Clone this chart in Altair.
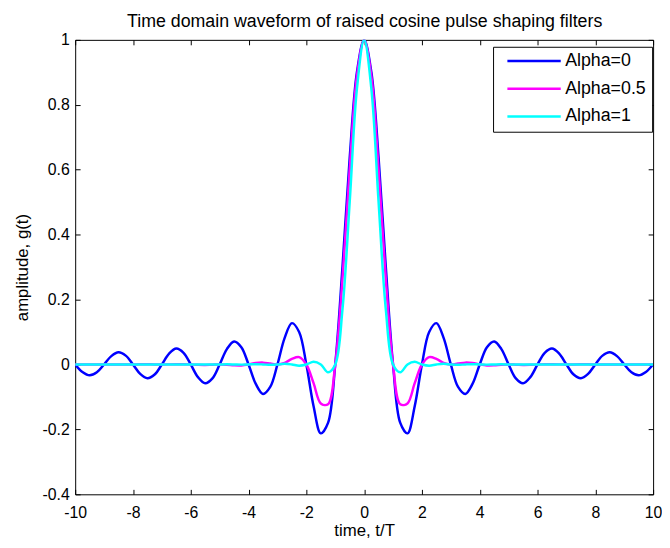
import altair as alt
import pandas as pd

# sample grid of t/T
t_values = [i / 4 for i in range(-40, 41)]

alpha0 = [
    0.0, -0.0231, -0.0335, -0.0243, 0.0, 0.0257, 0.0375, 0.0273,
    0.0, -0.0290, -0.0424, -0.0311, 0.0, 0.0334, 0.0490, 0.0360,
    0.0, -0.0391, -0.0579, -0.0429, 0.0, 0.0474, 0.0707, 0.0530,
    0.0, -0.0600, -0.0909, -0.0693, 0.0, 0.0819, 0.1273, 0.1000,
    0.0, -0.1286, -0.2122, -0.1801, 0.0, 0.3001, 0.6366, 0.9003,
    1.0,
    0.9003, 0.6366, 0.3001, 0.0, -0.1801, -0.2122, -0.1286, 0.0,
    0.1000, 0.1273, 0.0819, 0.0, -0.0693, -0.0909, -0.0600, 0.0,
    0.0530, 0.0707, 0.0474, 0.0, -0.0429, -0.0579, -0.0391, 0.0,
    0.0360, 0.0490, 0.0334, 0.0, -0.0311, -0.0424, -0.0290, 0.0,
    0.0273, 0.0375, 0.0257, 0.0, -0.0243, -0.0335, -0.0231, 0.0,
]

alpha05 = [
    0.0, -0.0002, -0.0003, -0.0001, 0.0, -0.0001, -0.0004, -0.0004,
    0.0, 0.0005, 0.0005, 0.0002, 0.0, 0.0003, 0.0008, 0.0009,
    0.0, -0.0011, -0.0014, -0.0006, 0.0, -0.0008, -0.0026, -0.0029,
    0.0, 0.0043, 0.0057, 0.0028, 0.0, 0.0048, 0.0172, 0.0228,
    0.0, -0.0576, -0.1200, -0.1225, 0.0, 0.2625, 0.6002, 0.8872,
    1.0,
    0.8872, 0.6002, 0.2625, 0.0, -0.1225, -0.1200, -0.0576, 0.0,
    0.0228, 0.0172, 0.0048, 0.0, 0.0028, 0.0057, 0.0043, 0.0,
    -0.0029, -0.0026, -0.0008, 0.0, -0.0006, -0.0014, -0.0011, 0.0,
    0.0009, 0.0008, 0.0003, 0.0, 0.0002, 0.0005, 0.0005, 0.0,
    -0.0004, -0.0004, -0.0001, 0.0, -0.0001, -0.0003, -0.0002, 0.0,
]

alpha1 = [
    0.0, 0.0, 0.0, 0.0, 0.0, 0.0001, 0.0, -0.0001,
    0.0, 0.0001, 0.0, -0.0001, 0.0, 0.0001, 0.0, -0.0002,
    0.0, 0.0002, 0.0, -0.0003, 0.0, 0.0004, 0.0, -0.0005,
    0.0, 0.0008, 0.0, -0.0012, 0.0, 0.0020, 0.0, -0.0037,
    0.0, 0.0081, 0.0, -0.0243, 0.0, 0.1698, 0.5, 0.8488,
    1.0,
    0.8488, 0.5, 0.1698, 0.0, -0.0243, 0.0, 0.0081, 0.0,
    -0.0037, 0.0, 0.0020, 0.0, -0.0012, 0.0, 0.0008, 0.0,
    -0.0005, 0.0, 0.0004, 0.0, -0.0003, 0.0, 0.0002, 0.0,
    -0.0002, 0.0, 0.0001, 0.0, -0.0001, 0.0, 0.0001, 0.0,
    -0.0001, 0.0, 0.0001, 0.0, 0.0, 0.0, 0.0, 0.0,
]

series_names = ["Alpha=0", "Alpha=0.5", "Alpha=1"]
series_colors = ["#0000FF", "#FF00FF", "#00FFFF"]
x_ticks = [-10, -8, -6, -4, -2, 0, 2, 4, 6, 8, 10]
y_ticks = [-0.4, -0.2, 0, 0.2, 0.4, 0.6, 0.8, 1]
title_text = "Time domain waveform of raised cosine pulse shaping filters"
x_title = "time, t/T"
y_title = "amplitude, g(t)"

rows = []
for name, vals in zip(series_names, [alpha0, alpha05, alpha1]):
    for t, g in zip(t_values, vals):
        rows.append({"t": t, "g": g, "series": name})
df = pd.DataFrame(rows)

W, H = 585, 460
TK = 5  # inward tick length
FONT = "Liberation Sans"

xscale = alt.Scale(domain=[-10, 10], nice=False, zero=False)
yscale = alt.Scale(domain=[-0.4, 1], nice=False, zero=False)

lines = alt.Chart(df).mark_line(
    strokeWidth=2.5, interpolate="catmull-rom", clip=True
).encode(
    x=alt.X(
        "t:Q", scale=xscale,
        axis=alt.Axis(
            orient="bottom", offset=-TK, values=x_ticks, ticks=True,
            tickSize=TK, tickColor="black", domain=False, grid=False,
            labelFlush=False, labelFont=FONT, labelFontSize=16,
            labelColor="black", labelPadding=10, labelExpr="'' + datum.value",
            title=x_title, titleFont=FONT, titleFontSize=17,
            titleFontWeight="normal", titleColor="black",
            titleX=W / 2, titleY=47, titleBaseline="alphabetic",
            titleAlign="center",
        ),
    ),
    y=alt.Y(
        "g:Q", scale=yscale,
        axis=alt.Axis(
            orient="left", offset=-TK, values=y_ticks, ticks=True,
            tickSize=TK, tickColor="black", domain=False, grid=False,
            labelFlush=False, labelFont=FONT, labelFontSize=16,
            labelColor="black", labelPadding=6, labelExpr="'' + datum.value",
            title=y_title, titleFont=FONT, titleFontSize=17,
            titleFontWeight="normal", titleColor="black",
            titleX=-53, titleY=H / 2, titleAngle=-90,
            titleBaseline="alphabetic", titleAlign="center",
        ),
    ),
    color=alt.Color(
        "series:N",
        scale=alt.Scale(domain=series_names, range=series_colors),
        sort=series_names,
        legend=alt.Legend(
            title=None, orient="none", legendX=423, legendY=7,
            direction="vertical", symbolType="stroke", symbolSize=2916,
            symbolStrokeWidth=2.5, clipHeight=17, labelFont=FONT,
            labelFontSize=18, labelColor="black", labelOffset=3, padding=6,
            rowPadding=9, strokeColor="black", fillColor="white",
            symbolOffset=7,
        ),
    ),
)

ghost = alt.Chart(df).mark_point(opacity=0, size=1)

ticks_other = ghost.encode(
    x=alt.X("t:Q", scale=xscale, axis=alt.Axis(
        orient="bottom", offset=-H, values=x_ticks, labels=False,
        domain=False, grid=False, ticks=True, tickSize=TK,
        tickColor="black", title=title_text, titleFont=FONT,
        titleFontSize=18, titleFontWeight="normal", titleColor="black",
        titleX=W / 2, titleY=-14, titleBaseline="alphabetic",
        titleAlign="center")),
    y=alt.Y("g:Q", scale=yscale, axis=alt.Axis(
        orient="right", offset=-TK, values=y_ticks, labels=False,
        domain=False, grid=False, ticks=True, tickSize=TK,
        tickColor="black", title=None)),
)

chart = alt.layer(lines, ticks_other).resolve_axis(
    x="independent", y="independent"
).properties(
    width=W, height=H,
    padding={"left": 68, "top": 29, "right": 9, "bottom": 43},
    autosize=alt.AutoSizeParams(type="none"),
    background="white",
).configure_view(stroke="black", strokeWidth=1)

chart.save("out.html", embed_options={"renderer": "svg", "actions": False})
